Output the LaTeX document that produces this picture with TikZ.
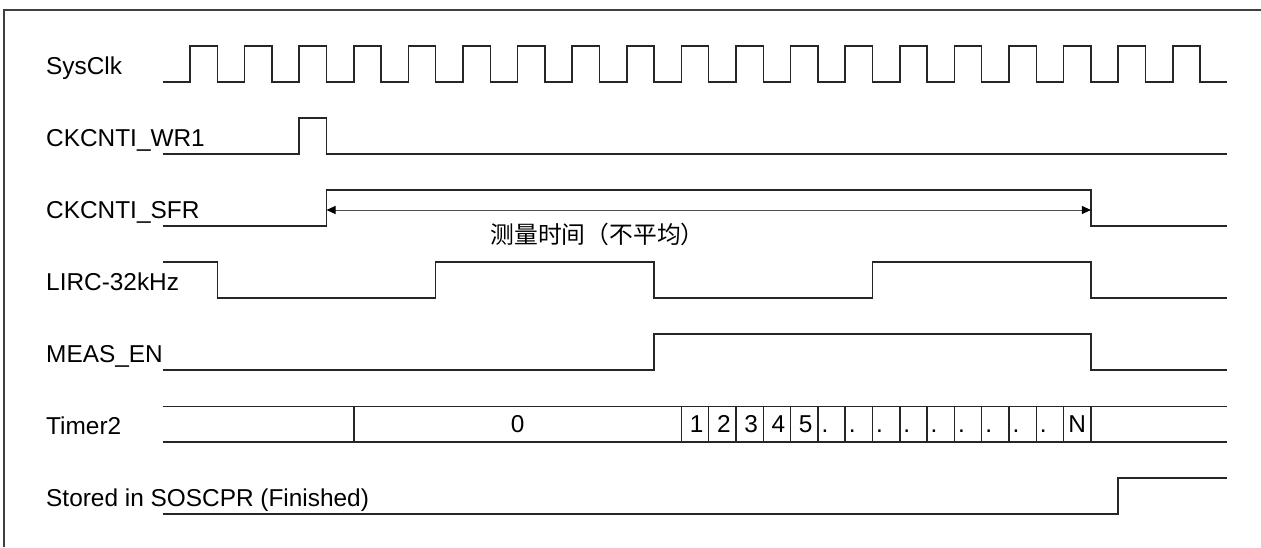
\documentclass[tikz,border=0pt]{standalone}
\usepackage{fontspec}
\setmainfont{Liberation Sans}
\newfontfamily\cjkfont{Noto Sans CJK SC}
\usetikzlibrary{arrows.meta}
\begin{document}
\begin{tikzpicture}[x=1pt,y=-1pt,
  declare function={tx(\t)=162.7+27.3*\t;},
  wave/.style={line width=1.5pt,color=black!85,line join=miter},
  frame/.style={line width=1.5pt,color=black!75},
  lbl/.style={anchor=base west,inner sep=0pt,font=\fontsize{24.4}{28}\selectfont},
  celltxt/.style={anchor=base,inner sep=0pt,font=\fontsize{24.4}{28}\selectfont},
  measarrow/.style={line width=1pt,color=black!70,
    {Triangle[length=9pt,width=8pt,color=black]}-{Triangle[length=9pt,width=8pt,color=black]}},
]
\useasboundingbox (0,0) rectangle (1261,547);
\fill[white] (0,0) rectangle (1261,547);
% frame
\draw[frame] (4,547) -- (4,10) -- (1261,10);

% labels
\node[lbl] (lSys)   at (46,74)    {SysClk};
\node[lbl] (lWr)    at (46,146.5) {CKCNTI\_WR1};
\node[lbl] (lSfr)   at (46,218.5) {CKCNTI\_SFR};
\node[lbl] (lLirc)  at (46,290.5) {LIRC-32kHz};
\node[lbl] (lMeas)  at (46,362.5) {MEAS\_EN};
\node[lbl] (lTim)   at (46,434.5) {Timer2};
\node[lbl] (lSto)   at (46,506.5) {Stored in SOSCPR (Finished)};

% SysClk
\draw[wave] ({tx(0)},82)
  \foreach \k in {0,...,18} {
    -- ({tx(2*\k+1)},82) -- ({tx(2*\k+1)},46) -- ({tx(2*\k+2)},46) -- ({tx(2*\k+2)},82)
  } -- ({tx(39)},82);

% CKCNTI_WR1
\draw[wave] ({tx(0)},154) -- ({tx(5)},154) -- ({tx(5)},118) -- ({tx(6)},118)
  -- ({tx(6)},154) -- ({tx(39)},154);

% CKCNTI_SFR
\draw[wave] ({tx(0)},226) -- ({tx(6)},226) -- ({tx(6)},190) -- ({tx(34)},190)
  -- ({tx(34)},226) -- ({tx(39)},226);
\coordinate (sfrL) at ({tx(6)},210);
\coordinate (sfrR) at ({tx(34)},210);
\draw[measarrow] (sfrL) -- (sfrR);
\node[anchor=base,inner sep=0pt,font=\cjkfont\fontsize{23.8}{28}\selectfont]
  (measTxt) at (597.5,243.5) {测量时间（不平均）};

% LIRC-32kHz
\draw[wave] ({tx(0)},262) -- ({tx(2)},262) -- ({tx(2)},298) -- ({tx(10)},298)
  -- ({tx(10)},262) -- ({tx(18)},262) -- ({tx(18)},298) -- ({tx(26)},298)
  -- ({tx(26)},262) -- ({tx(34)},262) -- ({tx(34)},298) -- ({tx(39)},298);

% MEAS_EN
\draw[wave] ({tx(0)},370) -- ({tx(18)},370) -- ({tx(18)},334) -- ({tx(34)},334)
  -- ({tx(34)},370) -- ({tx(39)},370);

% Timer2 bus
\draw[wave] ({tx(0)},406.5) -- ({tx(39)},406.5);
\draw[wave] ({tx(0)},442) -- ({tx(39)},442);
\foreach \i in {7,19,20,...,34}
  \draw[wave] ({tx(\i)},406.5) -- ({tx(\i)},442);
\node[celltxt] (c0) at ({tx(13)},432) {0};
\foreach \n [count=\i from 19] in {1,2,3,4,5}
  \node[celltxt] (c\n) at ({tx(\i+0.5)+1.5},432) {\n};
\foreach \i in {24,...,32}
  \node[celltxt] (d\i) at ({tx(\i)+7},432) {.};
\node[celltxt] (cN) at ({tx(33.5)},432) {N};

% Stored in SOSCPR
\draw[wave] ({tx(0)},514) -- ({tx(35)},514) -- ({tx(35)},478) -- ({tx(39)},478);
\end{tikzpicture}
\end{document}
